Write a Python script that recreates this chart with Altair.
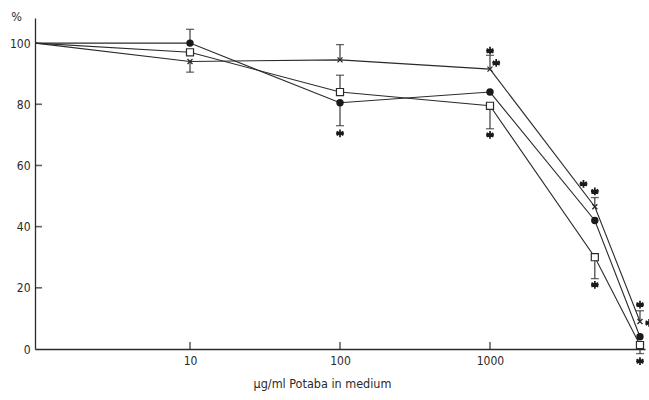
import altair as alt
import pandas as pd

# concentrations (µg/ml); first value = control plotted at the axis origin
conc = [0.93, 10, 100, 1000, 5000, 10000]
filled_circle = [100, 100, 80.5, 84, 42, 4]
open_square = [100, 97, 84, 79.5, 30, 1.3]
cross_series = [100, 94, 94.5, 91.5, 46.5, 9]

# error bars: concentration, start (mean), end
err_conc = [10, 10, 100, 100, 100, 1000, 1000, 5000, 5000, 10000, 10000]
err_from = [100, 94, 94.5, 84, 80.5, 91.5, 79.5, 46.5, 30, 9, 1.3]
err_to = [104.5, 90.5, 99.5, 89.5, 73, 96, 72, 49.5, 23, 12.5, -1.5]

# significance asterisks
ast_conc = [100, 1000, 1100, 1000, 4200, 5000, 5000, 10000, 11500, 10000]
ast_val = [70.5, 97.5, 93.5, 70, 54, 51.5, 21, 14.5, 8.5, -4]

x_ticks = [10, 100, 1000]
y_ticks = [20, 40, 60, 80]

W, H = 610, 331
X_DOMAIN = [0.926, 10800]
Y_DOMAIN = [0, 108.2]

FONT = "DejaVu Sans Condensed"
INK = "#2a2a2a"

series_names = ["filled", "open", "cross"]
rows = []
for name, vals in zip(series_names, [filled_circle, open_square, cross_series]):
    for c, v in zip(conc, vals):
        rows.append({"series": name, "conc": c, "val": v})
df = pd.DataFrame(rows)
df_pts = df[df.conc > 1]
df_err = pd.DataFrame({"conc": err_conc, "lo": err_from, "hi": err_to})
df_ast = pd.DataFrame({"conc": ast_conc, "val": ast_val})
df_xt = pd.DataFrame({"tconc": [float(v) for v in x_ticks]})
df_yt = pd.DataFrame({"tval": [float(v) for v in y_ticks]})

xs = alt.Scale(type="log", domain=X_DOMAIN, nice=False)
ys = alt.Scale(domain=Y_DOMAIN, nice=False, zero=False)

x_axis = alt.Axis(
    values=x_ticks, format="d", ticks=False, grid=False, labelFont=FONT,
    labelFontSize=12, labelColor=INK, domainColor=INK, domainWidth=1.3,
    labelPadding=6, title="µg/ml Potaba in medium", titleFont=FONT,
    titleFontSize=12.5, titleFontWeight="normal", titleColor=INK,
    titlePadding=11, titleX=287,
)
y_axis = alt.Axis(
    values=[0, 20, 40, 60, 80, 100], ticks=False, grid=False, labelFont=FONT,
    labelFontSize=12, labelColor=INK, domainColor=INK, domainWidth=1.3,
    labelPadding=5, title="%", titleAngle=0, titleFont=FONT, titleFontSize=12.5,
    titleFontWeight="normal", titleColor=INK, titleX=-19, titleY=-2,
    titleAlign="center", titleBaseline="middle",
)

xt = alt.Chart(df_xt).mark_tick(
    color="#222222", orient="vertical", size=7, thickness=1.6, yOffset=-3.5
).encode(x=alt.X("tconc:Q", scale=xs, axis=x_axis), y=alt.value(H))
yt = alt.Chart(df_yt).mark_tick(
    color="#222222", orient="horizontal", size=7, thickness=1.6, xOffset=3.5
).encode(y=alt.Y("tval:Q", scale=ys, axis=y_axis), x=alt.value(0))

lines = alt.Chart(df).mark_line(color=INK, strokeWidth=1.1).encode(
    x=alt.X("conc:Q", scale=xs), y=alt.Y("val:Q", scale=ys), detail="series:N"
)

errs = alt.Chart(df_err).mark_rule(color=INK, strokeWidth=1.1).encode(
    x=alt.X("conc:Q", scale=xs), y=alt.Y("lo:Q", scale=ys), y2="hi:Q"
)
caps = alt.Chart(df_err).mark_tick(
    color=INK, orient="horizontal", size=8, thickness=1.3
).encode(x=alt.X("conc:Q", scale=xs), y=alt.Y("hi:Q", scale=ys))

pts_f = alt.Chart(df_pts[df_pts.series == "filled"]).mark_point(
    shape="circle", filled=True, color="#1a1a1a", size=55, opacity=1
).encode(x=alt.X("conc:Q", scale=xs), y=alt.Y("val:Q", scale=ys))
pts_o = alt.Chart(df_pts[df_pts.series == "open"]).mark_point(
    shape="square", filled=True, fill="white", stroke=INK, strokeWidth=1.2,
    size=50, opacity=1
).encode(x=alt.X("conc:Q", scale=xs), y=alt.Y("val:Q", scale=ys))
pts_x = alt.Chart(df_pts[df_pts.series == "cross"]).mark_point(
    shape="M-1,-1L1,1M-1,1L1,-1", filled=False, stroke=INK, strokeWidth=1.3,
    size=25, opacity=1
).encode(x=alt.X("conc:Q", scale=xs), y=alt.Y("val:Q", scale=ys))

asts = alt.Chart(df_ast).mark_point(
    shape="M0,-1L0,1M-0.87,-0.5L0.87,0.5M-0.87,0.5L0.87,-0.5M-1,0L1,0",
    filled=False, stroke="#1a1a1a", strokeWidth=1.7, size=60, opacity=1
).encode(x=alt.X("conc:Q", scale=xs), y=alt.Y("val:Q", scale=ys))

chart = alt.layer(xt, yt, lines, errs, caps, pts_x, pts_o, pts_f, asts).properties(
    width=W, height=H,
    autosize=alt.AutoSizeParams(type="none"),
    padding={"left": 35, "top": 18, "right": 4, "bottom": 51},
    background="white",
).configure_view(stroke=None)

chart.save("out.html", embed_options={"renderer": "svg", "actions": False})
